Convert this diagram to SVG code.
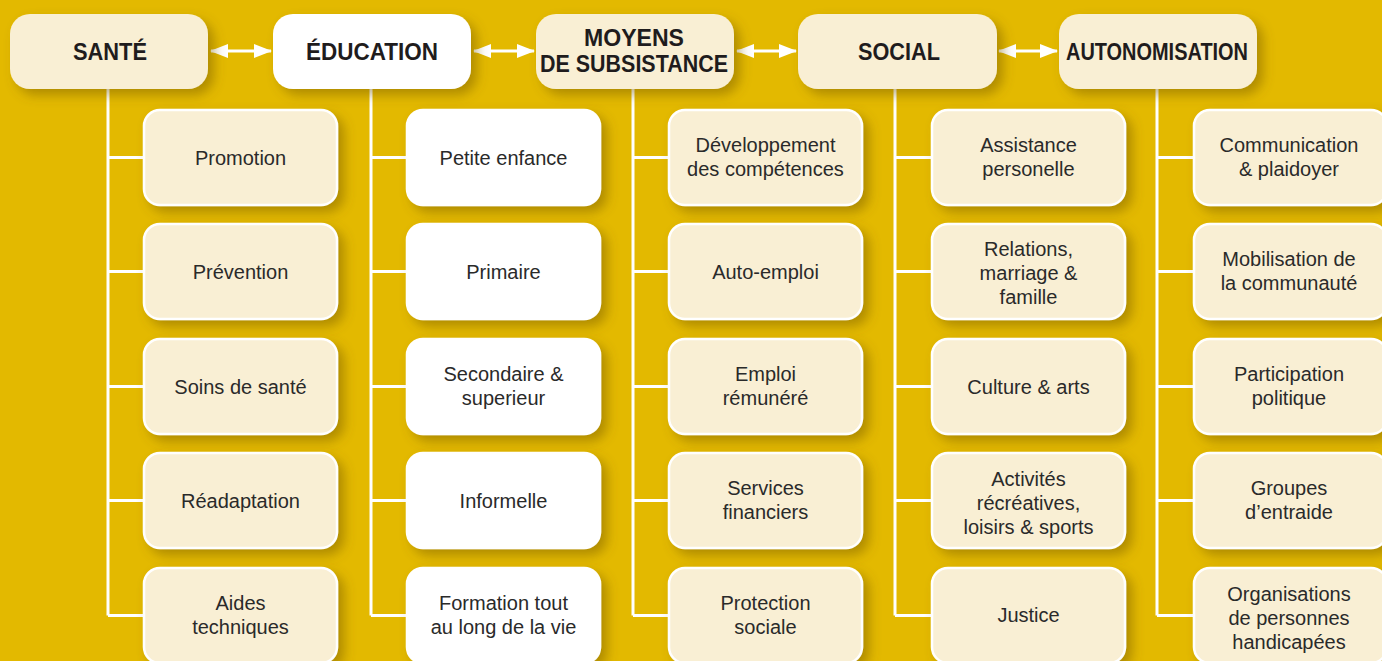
<svg xmlns="http://www.w3.org/2000/svg" width="1382" height="661" viewBox="0 0 1382 661">
<defs>
<filter id="sh" x="-20%" y="-20%" width="150%" height="160%">
<feDropShadow dx="6" dy="6" stdDeviation="6" flood-color="#6e5200" flood-opacity="0.45"/>
</filter>
<marker id="ah" viewBox="0 0 18 14" refX="17" refY="7" markerWidth="18" markerHeight="14" markerUnits="userSpaceOnUse" orient="auto-start-reverse">
<path d="M0,0 L18,7 L0,14 Z" fill="#ffffff"/>
</marker>
</defs>
<style>
.top{fill:#f9efd4;filter:url(#sh)}
.topw{fill:#ffffff;filter:url(#sh)}
.ch{fill:#f9efd4;stroke:#ffffff;stroke-width:2.5;filter:url(#sh)}
.chw{fill:#ffffff;stroke:#ffffff;stroke-width:2.5;filter:url(#sh)}
.tt{font-family:"Liberation Sans",Arial,sans-serif;font-weight:bold;font-size:23px;fill:#1f1c1d;text-anchor:middle}
.ct{font-family:"Liberation Sans",Arial,sans-serif;font-size:20px;fill:#2a2a2a;text-anchor:middle}
.ln{stroke:#ffffff;stroke-width:3;fill:none}
</style>
<rect width="1382" height="661" fill="#e3b900"/>

<g id="connectors">
<path class="ln" d="M108,89 V615.5 M108,157.5 H144 M108,271.5 H144 M108,386.5 H144 M108,500.5 H144 M108,615.5 H144"/>
<path class="ln" d="M371,89 V615.5 M371,157.5 H407 M371,271.5 H407 M371,386.5 H407 M371,500.5 H407 M371,615.5 H407"/>
<path class="ln" d="M633,89 V615.5 M633,157.5 H669 M633,271.5 H669 M633,386.5 H669 M633,500.5 H669 M633,615.5 H669"/>
<path class="ln" d="M895,89 V615.5 M895,157.5 H932 M895,271.5 H932 M895,386.5 H932 M895,500.5 H932 M895,615.5 H932"/>
<path class="ln" d="M1157,89 V615.5 M1157,157.5 H1194 M1157,271.5 H1194 M1157,386.5 H1194 M1157,500.5 H1194 M1157,615.5 H1194"/>
<path class="ln" d="M211,51 H271" marker-start="url(#ah)" marker-end="url(#ah)"/>
<path class="ln" d="M474,51 H534" marker-start="url(#ah)" marker-end="url(#ah)"/>
<path class="ln" d="M737,51 H796" marker-start="url(#ah)" marker-end="url(#ah)"/>
<path class="ln" d="M999,51 H1057" marker-start="url(#ah)" marker-end="url(#ah)"/>
</g>

<g id="sante">
<rect class="top" x="10" y="14" width="198" height="75" rx="20"/>
<text class="tt" x="110" y="60" textLength="74" lengthAdjust="spacingAndGlyphs">SANTÉ</text>
</g>
<g id="education">
<rect class="topw" x="273" y="14" width="198" height="75" rx="20"/>
<text class="tt" x="372" y="60" textLength="132" lengthAdjust="spacingAndGlyphs">ÉDUCATION</text>
</g>
<g id="moyens">
<rect class="top" x="536" y="14" width="198" height="75" rx="20"/>
<text class="tt" x="634" y="45.5" textLength="100" lengthAdjust="spacingAndGlyphs">MOYENS</text>
<text class="tt" x="634" y="72" textLength="188" lengthAdjust="spacingAndGlyphs">DE SUBSISTANCE</text>
</g>
<g id="social">
<rect class="top" x="798" y="14" width="199" height="75" rx="20"/>
<text class="tt" x="899" y="60" textLength="82" lengthAdjust="spacingAndGlyphs">SOCIAL</text>
</g>
<g id="autonomisation">
<rect class="top" x="1059" y="14" width="198" height="75" rx="20"/>
<text class="tt" x="1157" y="60" textLength="182" lengthAdjust="spacingAndGlyphs">AUTONOMISATION</text>
</g>

<g id="promotion"><rect class="ch" x="144" y="110" width="193" height="95" rx="16"/><text class="ct" x="240.5" y="165">Promotion</text></g>
<g id="prevention"><rect class="ch" x="144" y="224" width="193" height="95" rx="16"/><text class="ct" x="240.5" y="279">Prévention</text></g>
<g id="soins"><rect class="ch" x="144" y="339" width="193" height="95" rx="16"/><text class="ct" x="240.5" y="394">Soins de santé</text></g>
<g id="readaptation"><rect class="ch" x="144" y="453" width="193" height="95" rx="16"/><text class="ct" x="240.5" y="508">Réadaptation</text></g>
<g id="aides"><rect class="ch" x="144" y="568" width="193" height="95" rx="16"/><text class="ct" x="240.5" y="610">Aides</text><text class="ct" x="240.5" y="634">techniques</text></g>

<g id="petite"><rect class="chw" x="407" y="110" width="193" height="95" rx="16"/><text class="ct" x="503.5" y="165">Petite enfance</text></g>
<g id="primaire"><rect class="chw" x="407" y="224" width="193" height="95" rx="16"/><text class="ct" x="503.5" y="279">Primaire</text></g>
<g id="secondaire"><rect class="chw" x="407" y="339" width="193" height="95" rx="16"/><text class="ct" x="503.5" y="381">Secondaire &amp;</text><text class="ct" x="503.5" y="405">superieur</text></g>
<g id="informelle"><rect class="chw" x="407" y="453" width="193" height="95" rx="16"/><text class="ct" x="503.5" y="508">Informelle</text></g>
<g id="formation"><rect class="chw" x="407" y="568" width="193" height="95" rx="16"/><text class="ct" x="503.5" y="610">Formation tout</text><text class="ct" x="503.5" y="634">au long de la vie</text></g>

<g id="competences"><rect class="ch" x="669" y="110" width="193" height="95" rx="16"/><text class="ct" x="765.5" y="152">Développement</text><text class="ct" x="765.5" y="176">des compétences</text></g>
<g id="autoemploi"><rect class="ch" x="669" y="224" width="193" height="95" rx="16"/><text class="ct" x="765.5" y="279">Auto-emploi</text></g>
<g id="emploi"><rect class="ch" x="669" y="339" width="193" height="95" rx="16"/><text class="ct" x="765.5" y="381">Emploi</text><text class="ct" x="765.5" y="405">rémunéré</text></g>
<g id="services"><rect class="ch" x="669" y="453" width="193" height="95" rx="16"/><text class="ct" x="765.5" y="495">Services</text><text class="ct" x="765.5" y="519">financiers</text></g>
<g id="protection"><rect class="ch" x="669" y="568" width="193" height="95" rx="16"/><text class="ct" x="765.5" y="610">Protection</text><text class="ct" x="765.5" y="634">sociale</text></g>

<g id="assistance"><rect class="ch" x="932" y="110" width="193" height="95" rx="16"/><text class="ct" x="1028.5" y="152">Assistance</text><text class="ct" x="1028.5" y="176">personelle</text></g>
<g id="relations"><rect class="ch" x="932" y="224" width="193" height="95" rx="16"/><text class="ct" x="1028.5" y="256">Relations,</text><text class="ct" x="1028.5" y="280">marriage &amp;</text><text class="ct" x="1028.5" y="304">famille</text></g>
<g id="culture"><rect class="ch" x="932" y="339" width="193" height="95" rx="16"/><text class="ct" x="1028.5" y="394">Culture &amp; arts</text></g>
<g id="activites"><rect class="ch" x="932" y="453" width="193" height="95" rx="16"/><text class="ct" x="1028.5" y="486">Activités</text><text class="ct" x="1028.5" y="510">récréatives,</text><text class="ct" x="1028.5" y="534">loisirs &amp; sports</text></g>
<g id="justice"><rect class="ch" x="932" y="568" width="193" height="95" rx="16"/><text class="ct" x="1028.5" y="622">Justice</text></g>

<g id="communication"><rect class="ch" x="1194" y="110" width="193" height="95" rx="16"/><text class="ct" x="1289" y="152">Communication</text><text class="ct" x="1289" y="176">&amp; plaidoyer</text></g>
<g id="mobilisation"><rect class="ch" x="1194" y="224" width="193" height="95" rx="16"/><text class="ct" x="1289" y="266">Mobilisation de</text><text class="ct" x="1289" y="290">la communauté</text></g>
<g id="participation"><rect class="ch" x="1194" y="339" width="193" height="95" rx="16"/><text class="ct" x="1289" y="381">Participation</text><text class="ct" x="1289" y="405">politique</text></g>
<g id="groupes"><rect class="ch" x="1194" y="453" width="193" height="95" rx="16"/><text class="ct" x="1289" y="495">Groupes</text><text class="ct" x="1289" y="519">d’entraide</text></g>
<g id="organisations"><rect class="ch" x="1194" y="568" width="193" height="95" rx="16"/><text class="ct" x="1289" y="601">Organisations</text><text class="ct" x="1289" y="625">de personnes</text><text class="ct" x="1289" y="649">handicapées</text></g>
</svg>
